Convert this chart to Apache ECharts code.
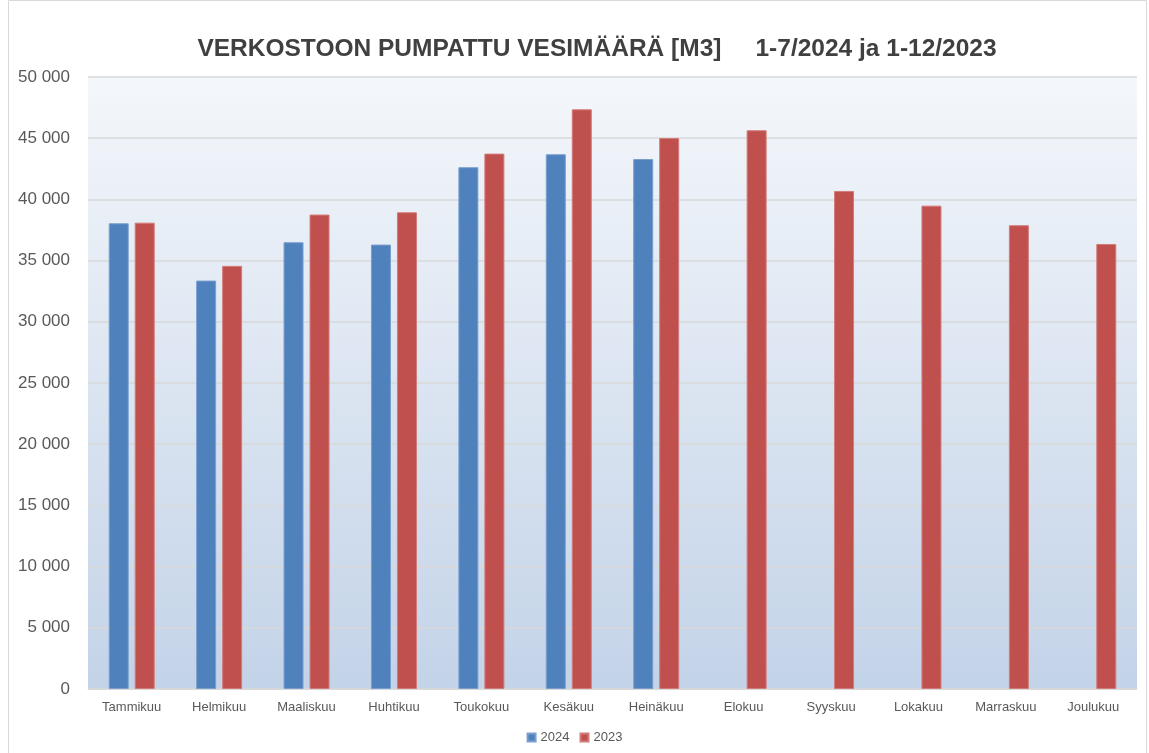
<!DOCTYPE html>
<html>
<head>
<meta charset="utf-8">
<script src="https://cdn.jsdelivr.net/npm/echarts@6/dist/echarts.min.js"></script>
<style>
  html, body { margin: 0; padding: 0; background: #fff; }
  #main { width: 1149px; height: 753px; }
</style>
</head>
<body>
<div id="main"></div>
<script>
var months = ['Tammikuu', 'Helmikuu', 'Maaliskuu', 'Huhtikuu', 'Toukokuu', 'Kesäkuu',
  'Heinäkuu', 'Elokuu', 'Syyskuu', 'Lokakuu', 'Marraskuu', 'Joulukuu'];
var values2024 = [38050, 33370, 36500, 36310, 42630, 43690, 43300, null, null, null, null, null];
var values2023 = [38100, 34570, 38760, 38950, 43740, 47360, 45020, 45650, 40690, 39490, 37890, 36360];
var yTicks = [0, 5000, 10000, 15000, 20000, 25000, 30000, 35000, 40000, 45000, 50000];

var labelFont = '"Liberation Sans", Arial, sans-serif';
var chart = echarts.init(document.getElementById('main'));

function fmt(v) {
  return String(v).replace(/\B(?=(\d{3})+(?!\d))/g, ' ');
}

chart.setOption({
  animation: false,
  title: {
    text: 'VERKOSTOON PUMPATTU VESIMÄÄRÄ [M3]     1-7/2024 ja 1-12/2023',
    left: 592,
    textAlign: 'center',
    top: 32,
    textStyle: {
      fontFamily: labelFont,
      fontWeight: 'bold',
      fontSize: 24.5,
      color: '#404040'
    }
  },
  graphic: [{
    type: 'rect',
    shape: { x: 8.5, y: 0.5, width: 1138, height: 760 },
    style: { fill: 'none', stroke: '#d9d9d9', lineWidth: 1 },
    silent: true
  }],
  legend: {
    data: ['2024', '2023'],
    bottom: 4,
    left: 'center',
    itemWidth: 8,
    itemHeight: 8,
    itemGap: 10,
    icon: 'rect',
    textStyle: { fontFamily: labelFont, fontSize: 13, color: '#595959' }
  },
  grid: {
    left: 88,
    right: 12,
    top: 77,
    bottom: 64,
    show: true,
    borderWidth: 0,
    backgroundColor: new echarts.graphic.LinearGradient(0, 0, 0, 1, [
      { offset: 0, color: '#f4f7fb' },
      { offset: 1, color: '#c3d3e8' }
    ])
  },
  xAxis: {
    type: 'category',
    data: months,
    axisLine: { lineStyle: { color: '#d9d9d9', width: 1 } },
    axisTick: { show: false },
    axisLabel: {
      interval: 0,
      margin: 12,
      fontFamily: labelFont,
      fontSize: 13,
      color: '#595959'
    }
  },
  yAxis: {
    type: 'value',
    min: yTicks[0],
    max: yTicks[yTicks.length - 1],
    interval: 5000,
    axisLine: { show: false },
    axisTick: { show: false },
    splitLine: { lineStyle: { color: '#d9d9d9', width: 1.5 } },
    axisLabel: {
      margin: 18,
      fontFamily: labelFont,
      fontSize: 17,
      color: '#595959',
      formatter: fmt
    }
  },
  series: [{
    name: '2024',
    type: 'bar',
    data: values2024,
    barWidth: 20,
    barGap: '30%',
    itemStyle: { color: '#4f81bd', borderColor: '#7a9fcf', borderWidth: 1 }
  }, {
    name: '2023',
    type: 'bar',
    data: values2023,
    barWidth: 20,
    itemStyle: { color: '#c0504d', borderColor: '#d27c7a', borderWidth: 1 }
  }]
});
</script>
</body>
</html>
